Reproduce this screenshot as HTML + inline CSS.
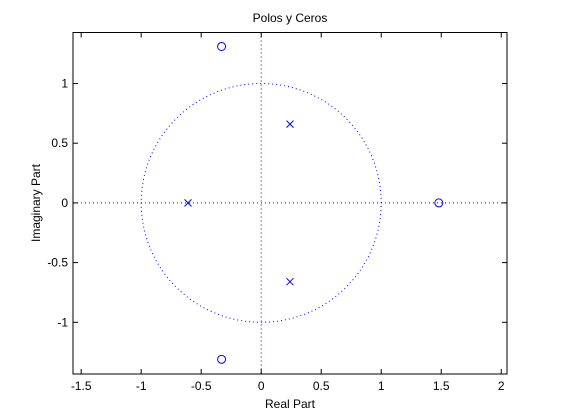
<!DOCTYPE html>
<html><head><meta charset="utf-8"><style>
body{margin:0;background:#fff;}
svg{display:block;font-family:"Liberation Sans",Arial,sans-serif;}
</style></head><body>
<svg id="chart" width="561" height="420" xmlns="http://www.w3.org/2000/svg">
<rect width="561" height="420" fill="#fff"/>
<text x="290" y="22" font-size="12" text-anchor="middle">Polos y Ceros</text>
<text x="290" y="408" font-size="12" text-anchor="middle">Real Part</text>
<text transform="translate(40,203) rotate(-90)" font-size="12" text-anchor="middle">Imaginary Part</text>
<g id="plot"></g>
</svg>
<script>
const xTicks=[-1.5,-1,-0.5,0,0.5,1,1.5,2];
const xTickLabels=["-1.5","-1","-0.5","0","0.5","1","1.5","2"];
const yTicks=[-1,-0.5,0,0.5,1];
const yTickLabels=["-1","-0.5","0","0.5","1"];
const zerosRe=[-0.33,-0.33,1.48];
const zerosIm=[1.31,-1.31,0];
const polesRe=[0.24,0.24,-0.61];
const polesIm=[0.66,-0.66,0];
const xMin=-1.568,xMax=2.048,yMin=-1.433,yMax=1.427;
const L=73,R=507,T=32.5,B=374;
const sx=v=>L+(v-xMin)/(xMax-xMin)*(R-L);
const sy=v=>B-(v-yMin)/(yMax-yMin)*(B-T);
const NS="http://www.w3.org/2000/svg";
const g=document.getElementById('plot');
function mk(t,a,p){const e=document.createElementNS(NS,t);for(const k in a)e.setAttribute(k,a[k]);(p||g).appendChild(e);return e;}
// unit circle
let d="";for(let i=0;i<=200;i++){const t=i/200*2*Math.PI;d+=(i?"L":"M")+sx(Math.cos(t)).toFixed(2)+","+sy(Math.sin(t)).toFixed(2);}
const uc=mk('path',{d:d,fill:'none',stroke:'#00f','stroke-width':1,'stroke-dasharray':'1 3'});


const hx=mk('line',{x1:L,x2:R,y1:sy(0),y2:sy(0),stroke:'#00f','stroke-dasharray':'1 3'});


const vx=mk('line',{x1:sx(0),x2:sx(0),y1:T,y2:B,stroke:'#00f','stroke-dasharray':'1 3'});


// box
const box=mk('rect',{x:L,y:T,width:R-L,height:B-T,fill:'none',stroke:'#000','stroke-width':1});


xTicks.forEach((v,i)=>{const x=sx(v);
mk('line',{x1:x,x2:x,y1:B,y2:B-5,stroke:'#000'});mk('line',{x1:x,x2:x,y1:T,y2:T+5,stroke:'#000'});
const t=mk('text',{x:x,y:B+16,'font-size':12,'text-anchor':'middle'});t.textContent=xTickLabels[i];

});
yTicks.forEach((v,i)=>{const y=sy(v);
mk('line',{x1:L,x2:L+5,y1:y,y2:y,stroke:'#000'});mk('line',{x1:R,x2:R-5,y1:y,y2:y,stroke:'#000'});
const t=mk('text',{x:L-5,y:y+4,'font-size':12,'text-anchor':'end'});t.textContent=yTickLabels[i];

});
zerosRe.forEach((v,i)=>{const c=mk('circle',{cx:sx(v),cy:sy(zerosIm[i]),r:4,fill:'none',stroke:'#00f','stroke-width':1});

});
polesRe.forEach((v,i)=>{const x=sx(v),y=sy(polesIm[i]);
const p=mk('path',{d:`M${x-3.5},${y-3.5}L${x+3.5},${y+3.5}M${x-3.5},${y+3.5}L${x+3.5},${y-3.5}`,stroke:'#00f','stroke-width':1});

});
</script>
</body></html>
